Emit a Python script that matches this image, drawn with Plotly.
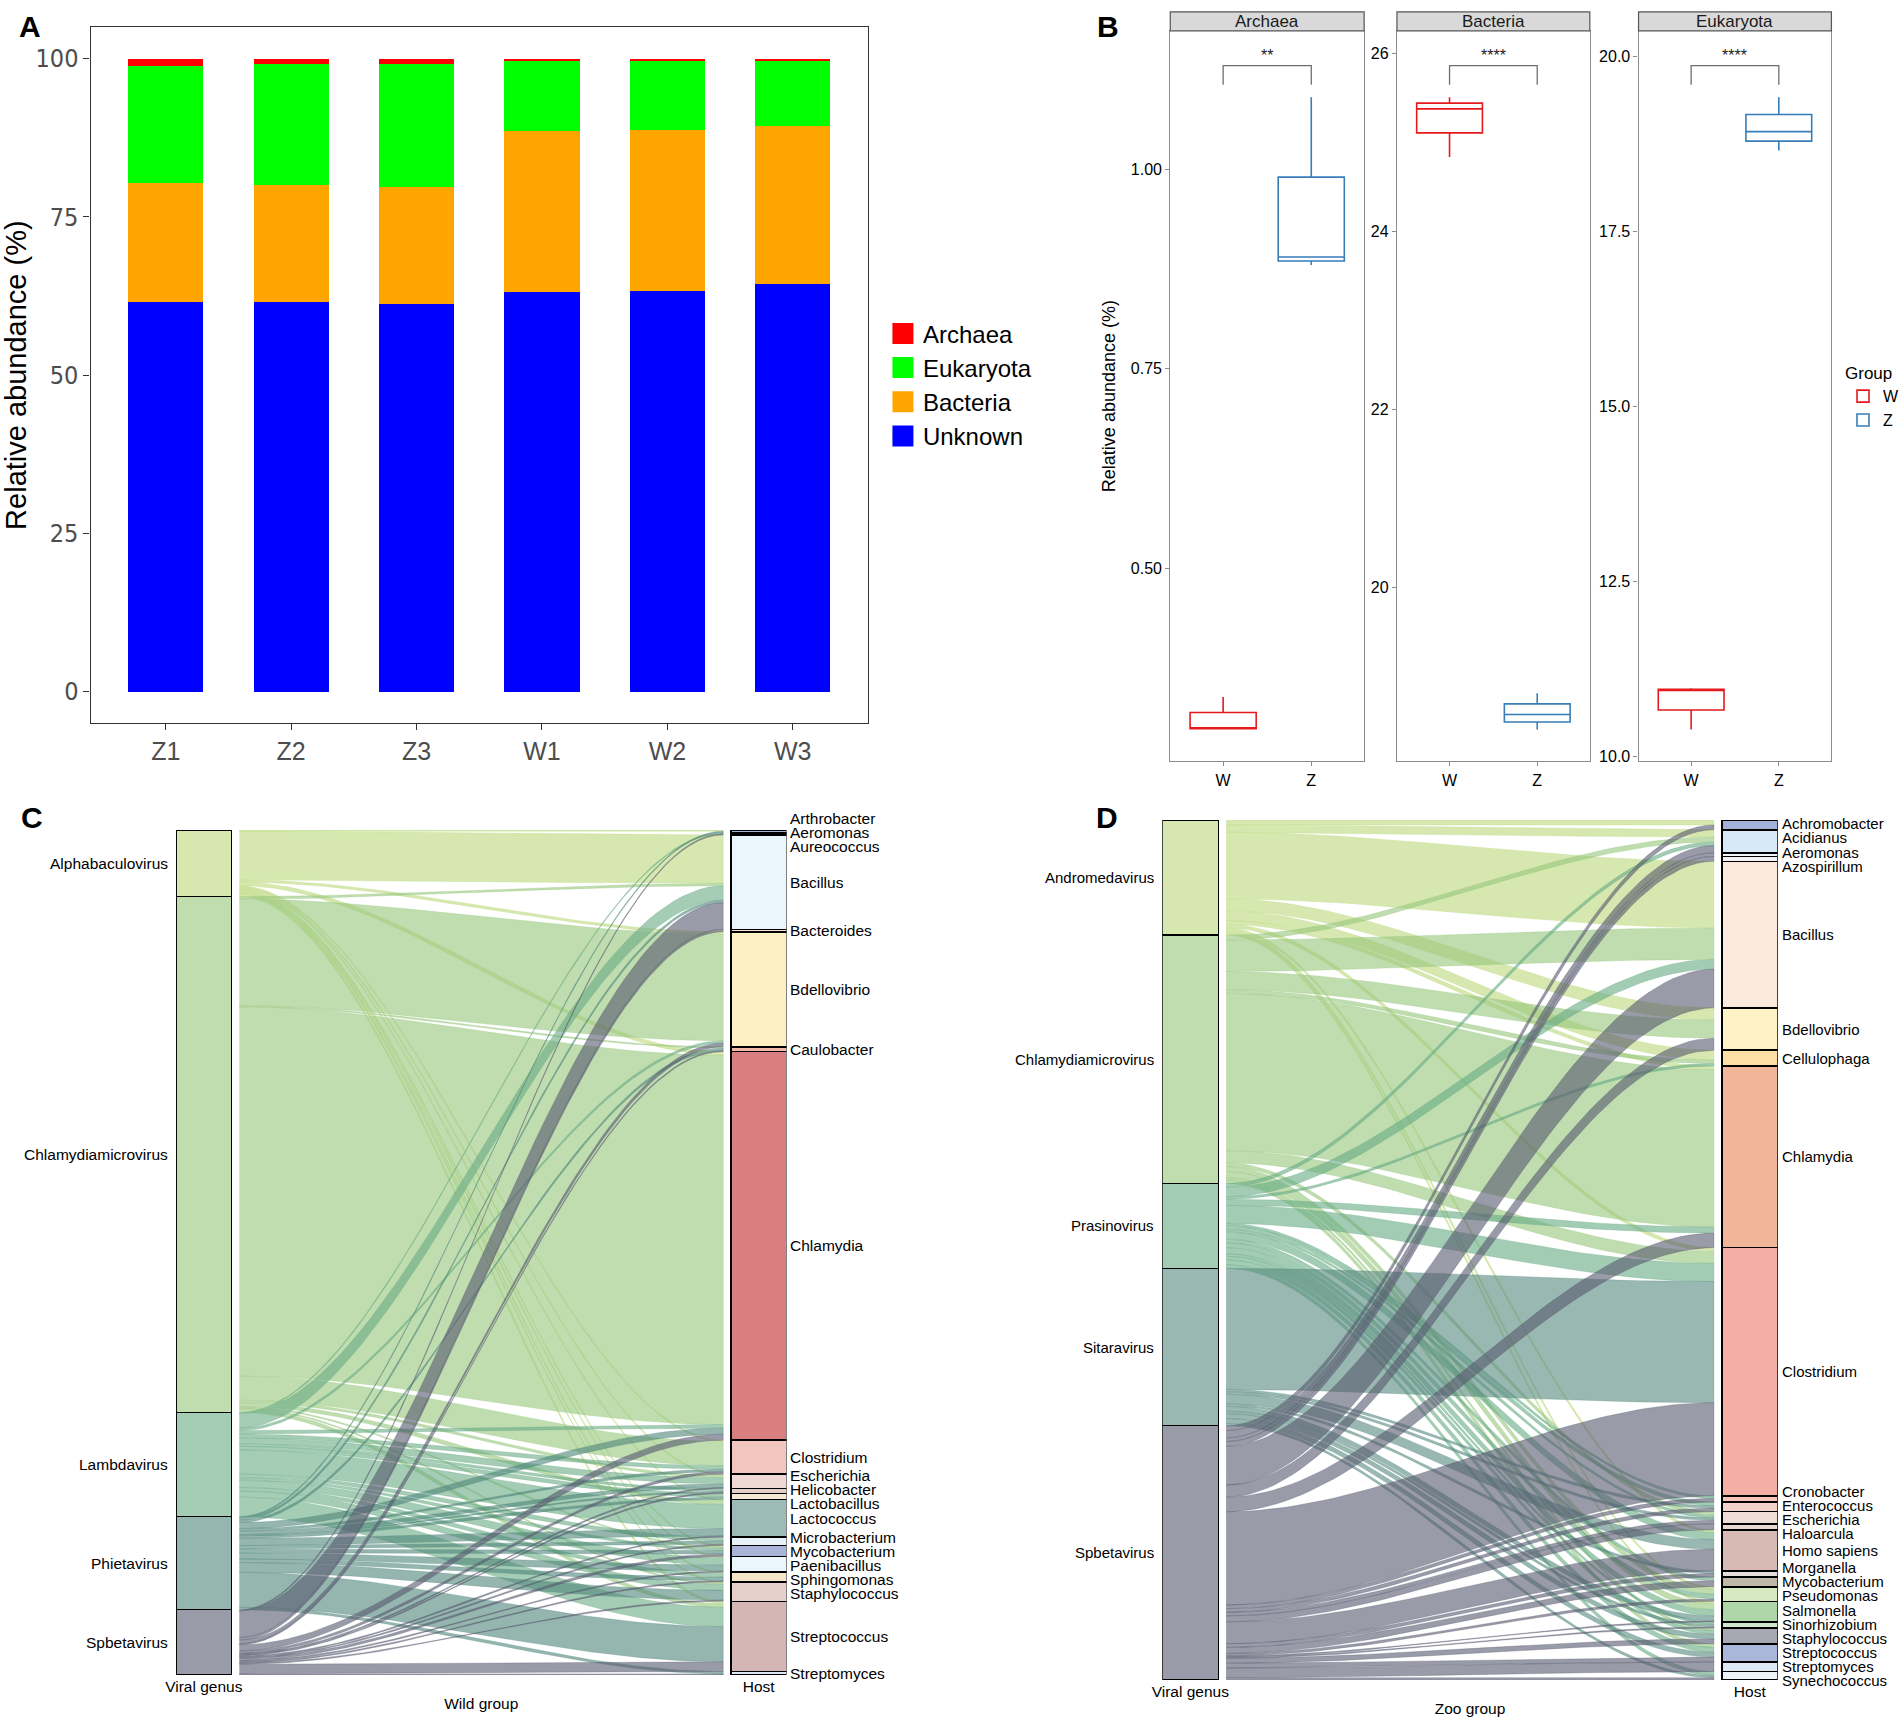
import numpy as np
import plotly.graph_objects as go

FIG_W, FIG_H = 1904, 1729
FONT = "Liberation Sans, Arial, Helvetica, sans-serif"
NARROW = "Liberation Sans Narrow, DejaVu Sans Condensed, Arial Narrow, sans-serif"

# ---------------- Panel A data ----------------
samples = ["Z1", "Z2", "Z3", "W1", "W2", "W3"]
unknown = [61.5, 61.6, 61.3, 63.1, 63.3, 64.4]
bacteria = [18.8, 18.5, 18.4, 25.5, 25.4, 24.9]
eukaryota = [18.5, 19.0, 19.4, 10.95, 10.85, 10.25]
archaea = [1.2, 0.9, 0.9, 0.45, 0.45, 0.45]
a_ticks = [0, 25, 50, 75, 100]

# ---------------- Panel B data ----------------
groups = ["W", "Z"]
facets = ["Archaea", "Bacteria", "Eukaryota"]
archaea_W = [0.298, 0.300, 0.339]
archaea_Z = [0.880, 0.890, 1.090]
bacteria_W = [24.84, 25.38, 25.51]
bacteria_Z = [18.40, 18.57, 18.81]
eukaryota_W = [10.38, 10.94, 10.97]
eukaryota_Z = [18.65, 18.92, 19.41]
signif = ["**", "****", "****"]

# ---------------- Panel C data (wild group) ----------------
wild_viruses = ["Alphabaculovirus", "Chlamydiamicrovirus", "Lambdavirus", "Phietavirus", "Spbetavirus"]
wild_hosts = ["Arthrobacter", "Aeromonas", "Aureococcus", "Bacillus", "Bacteroides", "Bdellovibrio",
              "Caulobacter", "Chlamydia", "Clostridium", "Escherichia", "Helicobacter", "Lactobacillus",
              "Lactococcus", "Microbacterium", "Mycobacterium", "Paenibacillus", "Sphingomonas",
              "Staphylococcus", "Streptococcus", "Streptomyces"]
wild_alphabaculovirus = [1, 0, 0, 40, 0, 2, 0, 3, 1, 1, 0, 0, 1, 0, 1, 1, 1, 1, 2, 0]
wild_chlamydiamicrovirus = [0, 0, 0, 2, 0, 88, 1, 305, 20, 2, 0, 0, 3, 0, 1, 0, 0, 1, 3, 0]
wild_lambdavirus = [0, 1, 0, 12, 0, 2, 0, 3, 3, 5, 2, 3, 20, 3, 2, 6, 3, 5, 16, 0]
wild_phietavirus = [1, 0, 0, 2, 0, 0, 2, 5, 2, 3, 1, 2, 6, 3, 3, 5, 3, 8, 29, 2]
wild_spbetavirus = [0, 0, 1, 22, 2, 3, 1, 5, 2, 1, 1, 0, 1, 1, 2, 1, 1, 1, 8, 1]

# ---------------- Panel D data (zoo group) ----------------
zoo_viruses = ["Andromedavirus", "Chlamydiamicrovirus", "Prasinovirus", "Sitaravirus", "Spbetavirus"]
zoo_hosts = ["Achromobacter", "Acidianus", "Aeromonas", "Azospirillum", "Bacillus", "Bdellovibrio",
             "Cellulophaga", "Chlamydia", "Clostridium", "Cronobacter", "Enterococcus", "Escherichia",
             "Haloarcula", "Homo sapiens", "Morganella", "Mycobacterium", "Pseudomonas", "Salmonella",
             "Sinorhizobium", "Staphylococcus", "Streptococcus", "Streptomyces", "Synechococcus"]
zoo_andromedavirus = [4, 6, 0, 0, 55, 10, 8, 3, 3, 0, 0, 0, 0, 2, 0, 0, 2, 2, 0, 0, 0, 0, 0]
zoo_chlamydiamicrovirus = [0, 4, 0, 0, 26, 15, 3, 130, 10, 0, 0, 3, 0, 0, 0, 0, 4, 5, 0, 2, 3, 0, 0]
zoo_prasinovirus = [0, 3, 0, 0, 8, 0, 2, 5, 15, 2, 3, 2, 0, 6, 0, 3, 4, 5, 2, 3, 4, 0, 3]
zoo_sitaravirus = [0, 0, 0, 0, 0, 0, 0, 0, 100, 0, 2, 2, 0, 8, 2, 0, 0, 4, 2, 4, 4, 0, 2]
zoo_spbetavirus = [4, 6, 3, 4, 32, 10, 0, 12, 77, 3, 3, 3, 5, 18, 3, 5, 2, 1, 1, 4, 4, 8, 2]

# ---------------- styles ----------------
a_colors = {"Unknown": "#0000FF", "Bacteria": "#FFA500", "Eukaryota": "#00FF00", "Archaea": "#FF0000"}
group_colors = {"W": "#E41A1C", "Z": "#377EB8"}
wild_virus_colors = ["#BBD97B", "#96C67B", "#69AA84", "#4E857A", "#57586E"]
zoo_virus_colors = ["#BBD97B", "#96C67B", "#66AA84", "#57897F", "#57586E"]
wild_host_colors = ["#A9B4D8", "#D5E7F4", "#EEF6FC", "#EAF5FC", "#F9E4D6", "#FDF1C4", "#F2B9A6",
                    "#D97F7F", "#F2C6BF", "#EFD8D3", "#E3CFC9", "#F3E9D2", "#9EBAB6", "#E8F0F8",
                    "#A9B4D8", "#EAF5FC", "#F6E7C9", "#E7D0CB", "#D4B6B4", "#DDE9F4"]
zoo_host_colors = ["#A3B0D8", "#D7E9F7", "#EEF6FC", "#F4F4F4", "#FCE9DE", "#FEF3C7", "#FDDEA5",
                   "#F1B59A", "#F5AEA6", "#F6C3BA", "#F3D2CC", "#F0DCD6", "#E9D8D2", "#D7BAB4",
                   "#E5DCDC", "#BFB7A8", "#D6EAC2", "#ADD6A9", "#CFE6CC", "#A6A7B0", "#A9B7DB",
                   "#DCEAF6", "#EDF4FA"]
FLOW_ALPHA = 0.6
STRAT_W = 0.1
FLOW_GAP = 0.014


def fx(px):
    return px / FIG_W


def fy(py):
    return 1 - py / FIG_H


def rgba(hexc, a):
    h = hexc.lstrip("#")
    return "rgba(%d,%d,%d,%s)" % (int(h[0:2], 16), int(h[2:4], 16), int(h[4:6], 16), a)


def spread_labels(centers, gap):
    target = [c - i * gap for i, c in enumerate(centers)]
    blocks = []
    for t in target:
        blocks.append([t, 1])
        while len(blocks) > 1 and blocks[-2][0] / blocks[-2][1] > blocks[-1][0] / blocks[-1][1]:
            s, c = blocks.pop()
            blocks[-1][0] += s
            blocks[-1][1] += c
    out = []
    for s, c in blocks:
        out.extend([s / c] * c)
    return [q + i * gap for i, q in enumerate(out)]


def box_stats(vals):
    v = np.asarray(vals, dtype=float)
    q1, med, q3 = np.percentile(v, [25, 50, 75])
    iqr = q3 - q1
    lo = v[v >= q1 - 1.5 * iqr].min()
    hi = v[v <= q3 + 1.5 * iqr].max()
    return q1, med, q3, lo, hi


fig = go.Figure()
annotations = []
shapes = []

# ================= Panel A =================
for name, vals in [("Unknown", unknown), ("Bacteria", bacteria), ("Eukaryota", eukaryota), ("Archaea", archaea)]:
    fig.add_trace(go.Bar(x=samples, y=vals, name=name, marker=dict(color=a_colors[name], line=dict(width=0)),
                         width=0.6, showlegend=False, xaxis="x", yaxis="y", hoverinfo="skip"))
for name in ["Archaea", "Eukaryota", "Bacteria", "Unknown"]:
    fig.add_trace(go.Scatter(x=[None], y=[None], mode="markers", name=name, legend="legend",
                             marker=dict(symbol="square", size=16, color=a_colors[name],
                                         line=dict(color=a_colors[name], width=5)),
                             xaxis="x", yaxis="y"))

# ================= Panel B =================
b_data = [(archaea_W, archaea_Z), (bacteria_W, bacteria_Z), (eukaryota_W, eukaryota_Z)]
b_dom = [(1166, 1361), (1394, 1588), (1637, 1831)]
b_dtick = [0.25, 2, 2.5]
b_fmt = [".2f", "d", ".1f"]
b_axes = {}
for k, (facet, (wv, zv)) in enumerate(zip(facets, b_data)):
    xa, ya = "x%d" % (k + 2), "y%d" % (k + 2)
    for g, vals in zip(groups, [wv, zv]):
        q1, med, q3, lo, hi = box_stats(vals)
        fig.add_trace(go.Box(x=[g], q1=[q1], median=[med], q3=[q3], lowerfence=[lo], upperfence=[hi],
                             name=g, legend="legend2", legendgroup=g,
                             showlegend=(k == 0), boxpoints=False,
                             line=dict(color=group_colors[g], width=1.6), fillcolor="rgba(255,255,255,0)",
                             width=0.75, whiskerwidth=0, xaxis=xa, yaxis=ya, hoverinfo="skip"))
    allv = list(wv) + list(zv)
    lo, hi = min(allv), max(allv)
    span = hi - lo
    yr = [lo - 0.05 * span, hi + 0.105 * span]
    br = hi + 0.05 * span
    tk = 0.03 * span
    fig.add_trace(go.Scatter(x=[groups[0], groups[0], groups[1], groups[1]], y=[br - tk, br, br, br - tk],
                             mode="lines", line=dict(color="#6E6E6E", width=1.3), showlegend=False,
                             xaxis=xa, yaxis=ya, hoverinfo="skip"))
    annotations.append(dict(x=0.5, y=br, xref=xa, yref=ya, text=signif[k], showarrow=False,
                            xanchor="center", yanchor="bottom", font=dict(size=16, color="#222222")))
    b_axes["xaxis%d" % (k + 2)] = dict(domain=[fx(b_dom[k][0]), fx(b_dom[k][1])], range=[-0.6, 1.6],
                                       type="category", categoryorder="array", categoryarray=groups,
                                       showline=True, mirror=True, linecolor="#8C8C8C", linewidth=1.2,
                                       ticks="outside", ticklen=4, tickcolor="#8C8C8C",
                                       tickfont=dict(size=16, color="black"), showgrid=False,
                                       zeroline=False, anchor=ya)
    b_axes["yaxis%d" % (k + 2)] = dict(domain=[fy(763), fy(31)], range=yr, dtick=b_dtick[k], tick0=0,
                                       tickformat=b_fmt[k], showline=True, mirror=True,
                                       linecolor="#8C8C8C", linewidth=1.2, ticks="outside", ticklen=4,
                                       tickcolor="#8C8C8C", tickfont=dict(size=16, color="black"),
                                       showgrid=False, zeroline=False, anchor=xa)
    shapes.append(dict(type="rect", xref="%s domain" % xa, yref="paper", x0=0, x1=1, y0=fy(31), y1=fy(12),
                       fillcolor="#D9D9D9", line=dict(color="#555555", width=1.2), layer="above"))
    annotations.append(dict(xref="%s domain" % xa, yref="paper", x=0.5, y=fy(21.5), text=facet,
                            showarrow=False, xanchor="center", yanchor="middle",
                            font=dict(size=17, color="#1A1A1A")))
b_axes["yaxis2"]["title"] = dict(text="Relative abundance (%)", font=dict(size=18), standoff=10)


# ================= Panels C & D (alluvial) =================
def add_alluvial(xa, ya, viruses, hosts, matrix, vcols, hcols, top_px, bot_px, gap_px, fsize):
    mat = np.array(matrix, dtype=float)
    nv, nh = mat.shape
    vt = mat.sum(axis=1)
    ht = mat.sum(axis=0)
    total = vt.sum()
    vstart = np.concatenate([[0], np.cumsum(vt)[:-1]])
    hstart = np.concatenate([[0], np.cumsum(ht)[:-1]])
    x0 = 1 + STRAT_W / 2 + FLOW_GAP
    x1 = 2 - STRAT_W / 2 - FLOW_GAP
    t = np.linspace(0, 1, 60)
    f = t * t * (3 - 2 * t)
    xs = x0 + (x1 - x0) * t
    xpoly = list(np.concatenate([xs, xs[::-1]]))
    for i in range(nv):
        for j in range(nh):
            m = mat[i, j]
            if m <= 0:
                continue
            yl = vstart[i] + mat[i, :j].sum()
            yr = hstart[j] + mat[:i, j].sum()
            top = yl + (yr - yl) * f
            bot = (yl + m) + ((yr + m) - (yl + m)) * f
            fig.add_trace(go.Scatter(x=xpoly, y=list(np.concatenate([top, bot[::-1]])), mode="lines",
                                     fill="toself", fillcolor=rgba(vcols[i], FLOW_ALPHA),
                                     line=dict(color=rgba(vcols[i], FLOW_ALPHA), width=0.5),
                                     showlegend=False, hoverinfo="skip", xaxis=xa, yaxis=ya))
    fig.add_trace(go.Bar(x=[1] * nv, y=vt, base=vstart, width=STRAT_W,
                         marker=dict(color=[rgba(c, FLOW_ALPHA) for c in vcols], line=dict(color="black", width=1.5)),
                         showlegend=False, hoverinfo="skip", xaxis=xa, yaxis=ya))
    fig.add_trace(go.Bar(x=[2] * nh, y=ht, base=hstart, width=STRAT_W,
                         marker=dict(color=hcols, line=dict(color="black", width=1.5)),
                         showlegend=False, hoverinfo="skip", xaxis=xa, yaxis=ya))

    def to_paper(v):
        return fy(top_px + (bot_px - top_px) * v / total)

    for i in range(nv):
        annotations.append(dict(x=0, y=to_paper(vstart[i] + vt[i] / 2), xref="%s domain" % xa, yref="paper",
                                text=viruses[i], showarrow=False, xanchor="right", yanchor="middle",
                                xshift=-6, font=dict(size=fsize)))
    gap = gap_px * total / (bot_px - top_px)
    pos = spread_labels(list(hstart + ht / 2), gap)
    for j in range(nh):
        annotations.append(dict(x=1, y=to_paper(pos[j]), xref="%s domain" % xa, yref="paper", text=hosts[j],
                                showarrow=False, xanchor="left", yanchor="middle", xshift=2,
                                font=dict(size=fsize)))
    return total


wild_matrix = [wild_alphabaculovirus, wild_chlamydiamicrovirus, wild_lambdavirus, wild_phietavirus, wild_spbetavirus]
zoo_matrix = [zoo_andromedavirus, zoo_chlamydiamicrovirus, zoo_prasinovirus, zoo_sitaravirus, zoo_spbetavirus]

c_top, c_bot = 832, 1679
d_top, d_bot = 822, 1684
tot_c = add_alluvial("x5", "y5", wild_viruses, wild_hosts, wild_matrix, wild_virus_colors, wild_host_colors,
                     c_top, c_bot, 14, 15.5)
tot_d = add_alluvial("x6", "y6", zoo_viruses, zoo_hosts, zoo_matrix, zoo_virus_colors, zoo_host_colors,
                     d_top, d_bot, 14.2, 15)


def alluvial_x(dom, title, ya):
    return dict(domain=[fx(dom[0]), fx(dom[1])], range=[1 - STRAT_W / 2, 2 + STRAT_W / 2],
                tickvals=[1, 2], ticktext=["Viral genus", "Host"], ticks="", showline=False,
                showgrid=False, zeroline=False, tickfont=dict(size=15.5, color="black"),
                title=dict(text=title, font=dict(size=15.5), standoff=4), anchor=ya)


# panel letters
for letter, (px, py) in zip("ABCD", [(6, 8), (1090, 8), (8, 801), (1089, 801)]):
    annotations.append(dict(xref="paper", yref="paper", x=fx(px), y=fy(py), text="<b>%s</b>" % letter,
                            showarrow=False, xanchor="left", yanchor="top",
                            font=dict(size=30, color="black")))

layout = dict(
    width=FIG_W, height=FIG_H, margin=dict(l=0, r=0, t=0, b=0, pad=0), autosize=False,
    paper_bgcolor="white", plot_bgcolor="white", barmode="stack", boxmode="overlay",
    font=dict(family=FONT, color="black"),
    xaxis=dict(domain=[fx(80), fx(862)], range=[-0.6, 5.6], type="category", categoryorder="array",
               categoryarray=samples, showline=True, mirror=True, linecolor="#333333", linewidth=1.2,
               ticks="outside", ticklen=6, tickcolor="#333333", tickwidth=1.2,
               tickfont=dict(size=25, color="#4D4D4D"), showgrid=False, zeroline=False, anchor="y"),
    yaxis=dict(domain=[fy(725), fy(27)], range=[-5, 105], tickvals=a_ticks, showline=True, mirror=True,
               linecolor="#333333", linewidth=1.2, ticks="outside", ticklen=6, tickcolor="#333333",
               tickwidth=1.2, tickfont=dict(size=25, color="#4D4D4D", family=NARROW), showgrid=False,
               zeroline=False, title=dict(text="Relative abundance (%)", font=dict(size=29), standoff=8),
               anchor="x"),
    xaxis5=alluvial_x((166, 780), "Wild group", "y5"),
    yaxis5=dict(domain=[fy(c_bot), fy(c_top)], range=[tot_c, 0], visible=False, anchor="x5"),
    xaxis6=alluvial_x((1158, 1777), "Zoo group", "y6"),
    yaxis6=dict(domain=[fy(d_bot), fy(d_top)], range=[tot_d, 0], visible=False, anchor="x6"),
    legend=dict(x=fx(877), y=fy(312), xanchor="left", yanchor="top", font=dict(size=24),
                bgcolor="rgba(0,0,0,0)", tracegroupgap=0, traceorder="normal"),
    legend2=dict(x=fx(1843), y=fy(358), xanchor="left", yanchor="top", font=dict(size=16),
                 title=dict(text="Group", font=dict(size=17)), bgcolor="rgba(0,0,0,0)",
                 tracegroupgap=0, itemwidth=30),
    annotations=annotations, shapes=shapes, showlegend=True,
)
layout.update(b_axes)
fig.update_layout(**layout)
fig.write_html("out.html", config={"displayModeBar": False},
               post_script="document.body.style.margin='0px';document.body.style.overflow='hidden';")
